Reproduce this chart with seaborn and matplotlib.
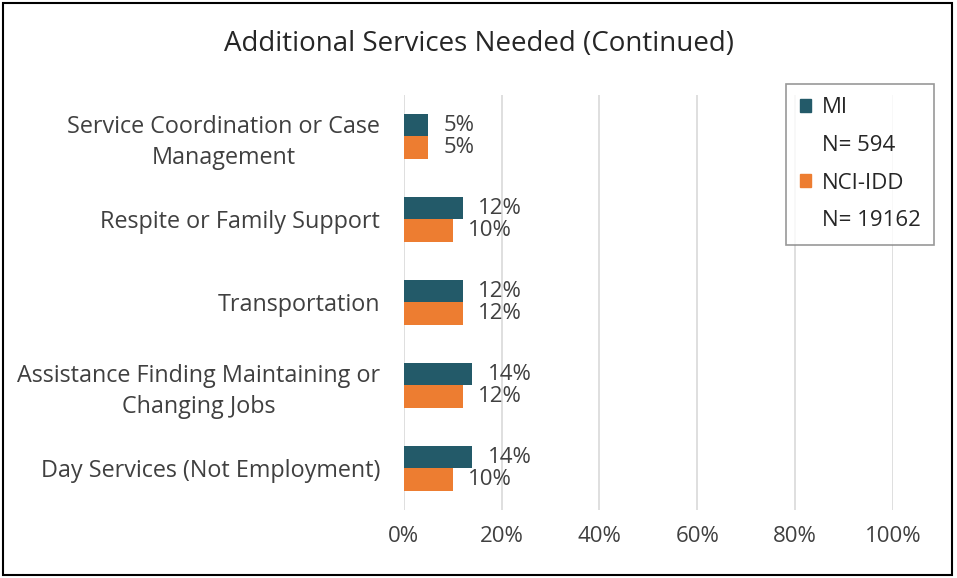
import pandas as pd
import matplotlib.pyplot as plt
import seaborn as sns
from matplotlib.patches import Rectangle

# Values
categories = ['Service Coordination or Case\nManagement',
              'Respite or Family Support',
              'Transportation',
              'Assistance Finding Maintaining or\nChanging Jobs',
              'Day Services (Not Employment)']
mi_values = [5, 12, 12, 14, 14]
nci_values = [5, 10, 12, 12, 10]
series_names = ['MI', 'NCI-IDD']
n_labels = ['N= 594', 'N= 19162']
colors = ['#235A69', '#ED7D31']

df = pd.DataFrame({
    'Service': categories * 2,
    'Percent': mi_values + nci_values,
    'Group': [series_names[0]] * len(categories) + [series_names[1]] * len(categories),
})

sns.set_style('white')
plt.rcParams['font.family'] = ['Open Sans', 'DejaVu Sans']

fig = plt.figure(figsize=(9.57, 5.78), dpi=100)
ax = fig.add_axes([0.422, 0.118, 0.511, 0.718])

sns.barplot(data=df, y='Service', x='Percent', hue='Group', orient='h',
            palette=colors, saturation=1, width=0.54, linewidth=0,
            ax=ax, legend=False)

for cont in ax.containers:
    ax.bar_label(cont, labels=[f'{v:.0f}%' for v in cont.datavalues],
                 padding=11, fontsize=16, color='#404040')

ax.set_xlim(0, 100)
ax.set_xticks([0, 20, 40, 60, 80, 100])
ax.set_xticklabels([f'{t}%' for t in [0, 20, 40, 60, 80, 100]],
                   fontsize=16, color='#404040')
ax.tick_params(axis='y', labelsize=16.8, labelcolor='#404040', length=0, pad=17)
ax.tick_params(axis='x', length=0, pad=12)
for lab in ax.get_yticklabels():
    lab.set_horizontalalignment('right')
    lab.set_multialignment('center')
    lab.set_linespacing(1.4)
ax.set_xlabel('')
ax.set_ylabel('')
ax.xaxis.grid(True, color='#D9D9D9', linewidth=1.2)
ax.set_axisbelow(True)
for s in ax.spines.values():
    s.set_visible(False)

fig.suptitle('Additional Services Needed (Continued)', fontsize=20,
             color='#262626', y=0.924, va='center')

# legend: coloured square next to series name, N on the line below
blank = Rectangle((0, 0), 1, 1, alpha=0)
handles = [Rectangle((0, 0), 1, 1, color=colors[0]), blank,
           Rectangle((0, 0), 1, 1, color=colors[1]), blank]
labels = [series_names[0], n_labels[0], series_names[1], n_labels[1]]
leg = fig.legend(handles, labels, loc='upper left',
                 bbox_to_anchor=(0.810, 0.874), fontsize=16,
                 frameon=True, fancybox=False, handlelength=0.5,
                 handleheight=0.5, handletextpad=0.5, labelspacing=0.75,
                 borderpad=0.6)
leg.get_frame().set_edgecolor('#7F7F7F')
leg.get_frame().set_linewidth(1.2)
for t in leg.get_texts():
    t.set_color('#262626')

fig.patches.append(Rectangle((0.003, 0.006), 0.992, 0.989, transform=fig.transFigure,
                             fill=False, edgecolor='black', linewidth=1.5))

plt.savefig('out.png', dpi=100)
